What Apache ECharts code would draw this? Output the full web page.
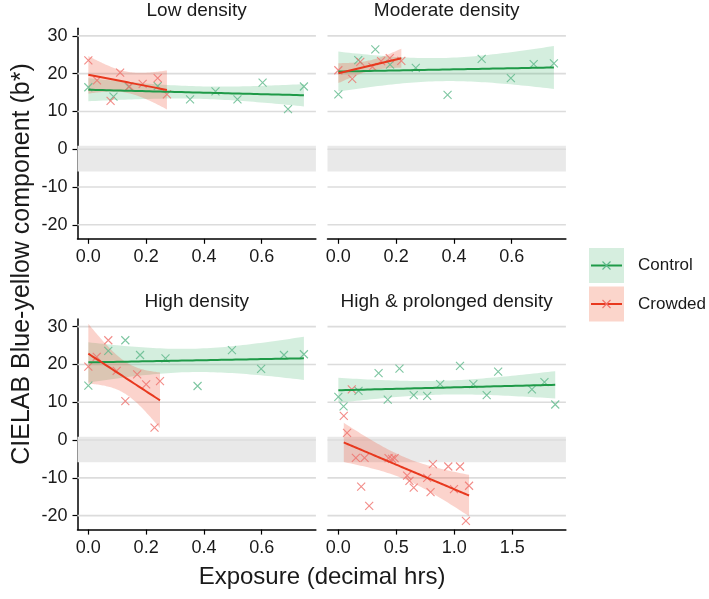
<!DOCTYPE html>
<html>
<head>
<meta charset="utf-8">
<script src="https://cdn.jsdelivr.net/npm/echarts@6.0.0/dist/echarts.min.js"></script>
<style>html,body{margin:0;padding:0;background:#fff}#c{width:709px;height:599px}</style>
</head>
<body>
<div id="c"></div>
<script>
// ---------------- data ----------------
const panels = ['Low density', 'Moderate density', 'High density', 'High & prolonged density'];
const groups = ['Control', 'Crowded'];
const xTicksShort = [0, 0.2, 0.4, 0.6];
const xTicksLong = [0, 0.5, 1.0, 1.5];
const yTicks = [-20, -10, 0, 10, 20, 30];
const refBand = [-5.9, 0.9];

const lowCtrlX = [0.00, 0.087, 0.14, 0.24, 0.352, 0.44, 0.516, 0.603, 0.691, 0.746];
const lowCtrlY = [16.4, 13.9, 16.5, 16.7, 13.2, 15.3, 13.2, 17.6, 10.6, 16.6];
const lowCrowdX = [0.00, 0.03, 0.077, 0.11, 0.142, 0.188, 0.24, 0.272];
const lowCrowdY = [23.5, 18.2, 12.8, 20.3, 16.6, 17.3, 18.8, 14.5];

const modCtrlX = [0.00, 0.069, 0.128, 0.179, 0.268, 0.378, 0.496, 0.597, 0.676, 0.746];
const modCtrlY = [14.5, 23.6, 26.4, 22.4, 21.5, 14.4, 23.9, 18.8, 22.5, 22.7];
const modCrowdX = [0.00, 0.048, 0.076, 0.118, 0.148, 0.178, 0.218];
const modCrowdY = [20.9, 18.6, 23.1, 21.8, 23.3, 24.1, 23.4];

const highCtrlX = [0.00, 0.069, 0.128, 0.179, 0.267, 0.378, 0.497, 0.598, 0.677, 0.746];
const highCtrlY = [14.4, 23.6, 26.4, 22.5, 21.6, 14.3, 23.8, 18.8, 22.5, 22.7];
const highCrowdX = [0.00, 0.029, 0.069, 0.098, 0.128, 0.169, 0.20, 0.229, 0.248];
const highCrowdY = [19.4, 22.0, 26.4, 18.3, 10.3, 17.4, 14.7, 3.3, 15.6];

const prolCtrlX = [0.00, 0.045, 0.174, 0.347, 0.426, 0.527, 0.65, 0.766, 0.878, 1.049, 1.164, 1.279, 1.378, 1.669, 1.777, 1.870];
const prolCtrlY = [11.4, 8.9, 13.0, 17.7, 10.7, 18.9, 11.9, 11.7, 14.8, 19.6, 14.8, 11.9, 18.1, 13.4, 15.3, 9.4];
const prolCrowdX = [0.047, 0.075, 0.116, 0.151, 0.197, 0.226, 0.266, 0.433, 0.463, 0.485, 0.593, 0.613, 0.65, 0.766, 0.795, 0.815, 0.948, 0.997, 1.049, 1.10, 1.127];
const prolCrowdY = [6.4, 1.9, 13.4, -4.7, -12.3, -4.7, -17.4, -4.8, -5.0, -4.8, -9.4, -10.8, -12.6, -10.0, -13.8, -6.4, -7.0, -13.0, -7.0, -21.4, -12.1];

// ---------------- styling / layout ----------------
const FONT = '"Liberation Sans", Arial, Helvetica, sans-serif';
const TXT = '#1a1a1a';
const BAND_COLOR = '#e9e9e9';
const GRID_COLOR = '#dcdcdc';
const COLORS = {
  Control: { line: '#1f9a48', pt: '#5cb88a', fill: 'rgba(40,170,90,0.2)', key: '#d6eedf' },
  Crowded: { line: '#e8381e', pt: '#ef6f6a', fill: 'rgba(240,80,50,0.25)', key: '#fbd5cb' }
};
const panelCfg = [
  { ctrl: [lowCtrlX, lowCtrlY], crowd: [lowCrowdX, lowCrowdY], xMin: -0.0375, xMax: 0.7875, ticks: xTicksShort, left: 77.5, top: 28.3, yAxisShow: true },
  { ctrl: [modCtrlX, modCtrlY], crowd: [modCrowdX, modCrowdY], xMin: -0.0375, xMax: 0.7875, ticks: xTicksShort, left: 327.5, top: 28.3, yAxisShow: false },
  { ctrl: [highCtrlX, highCtrlY], crowd: [highCrowdX, highCrowdY], xMin: -0.0375, xMax: 0.7875, ticks: xTicksShort, left: 77.5, top: 319.1, yAxisShow: true },
  { ctrl: [prolCtrlX, prolCtrlY], crowd: [prolCrowdX, prolCrowdY], xMin: -0.0935, xMax: 1.962, ticks: xTicksLong, left: 327.5, top: 319.1, yAxisShow: false }
];
const GW = 238.4, GH = 210.5;
const Y_MIN = -23.7, Y_MAX = 32.0;

// t quantiles (0.975) by degrees of freedom, for the 95% confidence ribbon of the linear fit
const T975 = {1:12.706,2:4.303,3:3.182,4:2.776,5:2.571,6:2.447,7:2.365,8:2.306,9:2.262,10:2.228,11:2.201,12:2.179,13:2.160,14:2.145,15:2.131,16:2.120,17:2.110,18:2.101,19:2.093,20:2.086,21:2.080,22:2.074,23:2.069,24:2.064,25:2.060};

// linear model fit (like geom_smooth(method = "lm")) evaluated across the group's x range
function lmFit(xs, ys) {
  const n = xs.length;
  const mx = xs.reduce((a, b) => a + b, 0) / n;
  const my = ys.reduce((a, b) => a + b, 0) / n;
  let sxx = 0, sxy = 0;
  for (let i = 0; i < n; i++) { sxx += (xs[i] - mx) ** 2; sxy += (xs[i] - mx) * (ys[i] - my); }
  const b = sxy / sxx, a = my - b * mx;
  let sse = 0;
  for (let i = 0; i < n; i++) sse += (ys[i] - a - b * xs[i]) ** 2;
  const s = Math.sqrt(sse / (n - 2));
  const t = T975[n - 2] || 1.96;
  const lo = Math.min(...xs), hi = Math.max(...xs);
  const out = [];
  const steps = 60;
  for (let k = 0; k <= steps; k++) {
    const x = lo + (hi - lo) * k / steps;
    const yh = a + b * x;
    const se = s * Math.sqrt(1 / n + (x - mx) ** 2 / sxx);
    out.push([x, yh - t * se, yh + t * se, yh]);
  }
  return out;
}

const grids = [], xAxes = [], yAxes = [], series = [];

panelCfg.forEach((p, i) => {
  grids.push({ left: p.left, top: p.top, width: GW, height: GH, containLabel: false, outerBoundsMode: 'none' });
  xAxes.push({
    type: 'value', gridIndex: i, min: p.xMin, max: p.xMax,
    splitLine: { show: false },
    axisLine: { show: true, onZero: false, lineStyle: { color: '#000', width: 1.5 } },
    axisTick: { show: true, length: 5, customValues: p.ticks, lineStyle: { color: '#000', width: 1.2 } },
    axisLabel: { customValues: p.ticks, formatter: v => v.toFixed(1), color: TXT, fontSize: 18, fontFamily: FONT, margin: 9 }
  });
  yAxes.push({
    type: 'value', gridIndex: i, min: Y_MIN, max: Y_MAX,
    splitLine: { show: false },
    axisLine: { show: p.yAxisShow, onZero: false, lineStyle: { color: '#000', width: 1.5 } },
    axisTick: { show: p.yAxisShow, length: 5, customValues: yTicks, lineStyle: { color: '#000', width: 1.2 } },
    axisLabel: { show: p.yAxisShow, customValues: yTicks, color: TXT, fontSize: 18, fontFamily: FONT, margin: 10 }
  });

  // background: grey reference band
  series.push({
    type: 'line', name: 'band', xAxisIndex: i, yAxisIndex: i, z: 1, silent: true,
    showSymbol: false, data: [],
    markArea: {
      silent: true, z: 1, itemStyle: { color: BAND_COLOR },
      data: [[{ xAxis: p.xMin, yAxis: refBand[1] }, { xAxis: p.xMax, yAxis: refBand[0] }]]
    }
  });
  // background: horizontal grid lines, one short line series per tick value
  yTicks.forEach(v => {
    series.push({
      type: 'line', name: 'grid', xAxisIndex: i, yAxisIndex: i, z: 1, silent: true,
      showSymbol: false, symbol: 'none',
      lineStyle: { color: GRID_COLOR, width: 1.6 },
      data: [[p.xMin, v], [p.xMax, v]]
    });
  });

  const sets = [['Control', p.ctrl], ['Crowded', p.crowd]];
  const fits = sets.map(([g, d]) => lmFit(d[0], d[1]));

  // ribbons
  sets.forEach(([g, d], k) => {
    const band = fits[k];
    series.push({
      type: 'custom', name: g + ' CI', xAxisIndex: i, yAxisIndex: i, clip: true, silent: true, z: 3,
      data: band.map(r => [r[0], r[1], r[2]]),
      encode: { x: 0, y: [1, 2] },
      renderItem: (params, api) => {
        if (params.dataIndex !== 0) return null;
        const upper = band.map(r => api.coord([r[0], r[2]]));
        const lower = band.slice().reverse().map(r => api.coord([r[0], r[1]]));
        return { type: 'polygon', shape: { points: upper.concat(lower) }, style: { fill: COLORS[g].fill } };
      }
    });
  });
  // points
  sets.forEach(([g, d]) => {
    series.push({
      type: 'scatter', name: g, xAxisIndex: i, yAxisIndex: i, z: 4,
      symbol: 'path://M0,0L10,10M10,0L0,10', symbolSize: 8,
      itemStyle: { color: 'rgba(0,0,0,0)', borderColor: COLORS[g].pt, borderWidth: 1.1 },
      data: d[0].map((x, j) => [x, d[1][j]])
    });
  });
  // fitted lines
  sets.forEach(([g, d], k) => {
    series.push({
      type: 'line', name: g + ' fit', xAxisIndex: i, yAxisIndex: i, z: 5, silent: true,
      showSymbol: false, symbol: 'none',
      lineStyle: { color: COLORS[g].line, width: 2 },
      data: fits[k].map(r => [r[0], r[3]])
    });
  });
});

// panel strip titles, axis titles, legend
const graphic = [];
const stripCenters = [[196.7, 10.5], [446.7, 10.5], [196.7, 301.5], [446.7, 301.5]];
panels.forEach((t, i) => {
  graphic.push({ type: 'text', x: stripCenters[i][0], y: stripCenters[i][1],
    style: { text: t, align: 'center', verticalAlign: 'middle', fontSize: 19, fontFamily: FONT, fill: TXT } });
});
graphic.push({ type: 'text', x: 322, y: 577,
  style: { text: 'Exposure (decimal hrs)', align: 'center', verticalAlign: 'middle', fontSize: 24, fontFamily: FONT, fill: TXT } });
graphic.push({ type: 'text', x: 22, y: 264, rotation: Math.PI / 2,
  style: { text: 'CIELAB Blue-yellow component (b*)', align: 'center', verticalAlign: 'middle', fontSize: 25, fontFamily: FONT, fill: TXT } });

groups.forEach((g, k) => {
  const top = 248 + k * 38.5, cy = top + 17.5, cx = 606.5;
  graphic.push({ type: 'rect', shape: { x: 589, y: top, width: 35, height: 35 }, style: { fill: COLORS[g].key } });
  graphic.push({ type: 'line', shape: { x1: 591, y1: cy, x2: 622, y2: cy }, style: { stroke: COLORS[g].line, lineWidth: 2 } });
  graphic.push({ type: 'line', shape: { x1: cx - 4, y1: cy - 4, x2: cx + 4, y2: cy + 4 }, style: { stroke: COLORS[g].pt, lineWidth: 1.1 } });
  graphic.push({ type: 'line', shape: { x1: cx + 4, y1: cy - 4, x2: cx - 4, y2: cy + 4 }, style: { stroke: COLORS[g].pt, lineWidth: 1.1 } });
  graphic.push({ type: 'text', x: 638, y: cy,
    style: { text: g, align: 'left', verticalAlign: 'middle', fontSize: 17, fontFamily: FONT, fill: TXT } });
});

const chart = echarts.init(document.getElementById('c'), null, { renderer: 'canvas', width: 709, height: 599 });
chart.setOption({
  backgroundColor: '#ffffff',
  animation: false,
  grid: grids,
  xAxis: xAxes,
  yAxis: yAxes,
  series: series,
  graphic: graphic
});
</script>
</body>
</html>
